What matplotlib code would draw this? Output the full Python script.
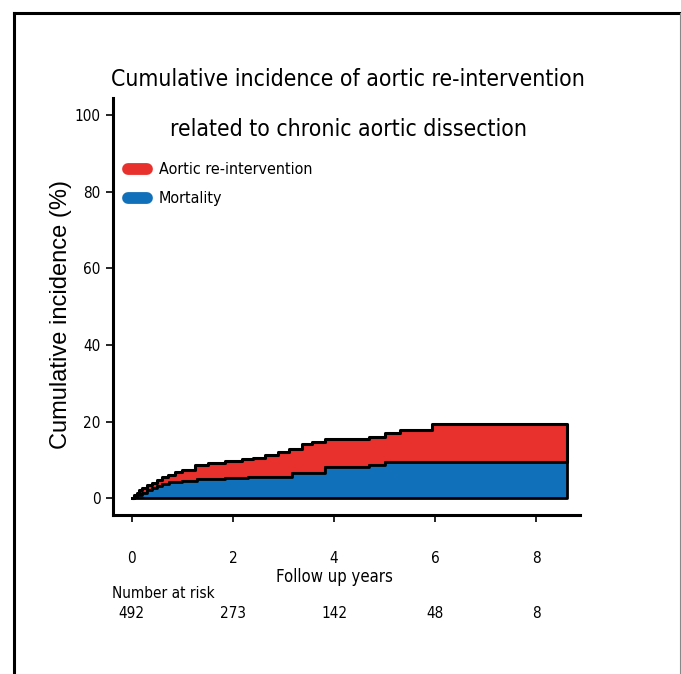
import numpy as np
import matplotlib
matplotlib.use('Agg')
import matplotlib.pyplot as plt
from matplotlib.lines import Line2D
from matplotlib.font_manager import FontProperties
from matplotlib.transforms import blended_transform_factory

plt.rcParams['font.family'] = ['DejaVu Sans']
plt.rcParams['font.stretch'] = 'condensed'

# step data (years, cumulative %)
t_reint = [0, 0.05, 0.1, 0.15, 0.2, 0.3, 0.4, 0.5, 0.6, 0.72, 0.85, 1.0, 1.25, 1.5,
           1.84, 2.17, 2.4, 2.63, 2.9, 3.1, 3.36, 3.56, 3.82, 4.68, 5.0, 5.3, 5.93, 8.6]
v_reint = [0, 0.8, 1.5, 2.1, 2.7, 3.4, 4.1, 4.8, 5.5, 6.1, 6.8, 7.5, 8.7, 9.2,
           9.8, 10.3, 10.6, 11.3, 12.0, 13.0, 14.1, 14.8, 15.5, 16.1, 17.1, 17.8, 19.3, 19.3]
t_mort = [0, 0.05, 0.1, 0.2, 0.3, 0.4, 0.5, 0.6, 0.73, 1.0, 1.3, 1.84, 2.3, 2.63,
          3.16, 3.82, 4.68, 5.0, 8.6]
v_mort = [0, 0.4, 0.9, 1.5, 2.1, 2.7, 3.3, 3.8, 4.3, 4.6, 5.0, 5.4, 5.5, 5.6,
          6.5, 8.1, 8.7, 9.55, 9.55]

risk_times = [0, 2, 4, 6, 8]
risk_counts = [492, 273, 142, 48, 8]

legend_labels = ['Aortic re-intervention', 'Mortality']

RED = '#e8302c'
BLUE = '#1170ba'

W, H = 681, 674


def fx(px):
    return px / W


def fy(py):
    return 1 - py / H


# mortality curve evaluated on the combined time grid so red sits on top of blue
t_all = np.array(sorted(set(t_reint) | set(t_mort)))
mort_on_all = np.array(v_mort)[np.searchsorted(t_mort, t_all, side='right') - 1]
reint_on_all = np.array(v_reint)[np.searchsorted(t_reint, t_all, side='right') - 1]

fig = plt.figure(figsize=(6.81, 6.74), dpi=100)
ax = fig.add_axes([fx(113), fy(515), fx(580) - fx(113), fy(98) - fy(515)])

ax.fill_between(t_all, mort_on_all, reint_on_all, step='post', facecolor=RED,
                edgecolor='black', linewidth=2.2, zorder=2)
ax.fill_between(t_all, 0, mort_on_all, step='post', facecolor=BLUE,
                edgecolor='black', linewidth=2.0, zorder=3)

ax.set_xlim(-0.37, 8.86)
ax.set_ylim(-4.36, 104.5)
ax.set_xticks([0, 2, 4, 6, 8])
ax.set_yticks([0, 20, 40, 60, 80, 100])
for s in ['top', 'right']:
    ax.spines[s].set_visible(False)
for s in ['left', 'bottom']:
    ax.spines[s].set_linewidth(2.2)
ax.tick_params(axis='both', width=1.2, length=5, labelsize=11)
ax.tick_params(axis='x', pad=21)
ax.tick_params(axis='y', pad=4)

ylab_font = FontProperties(family='Liberation Sans', stretch='normal', weight='normal', size=17)
ax.set_ylabel('Cumulative incidence (%)', fontproperties=ylab_font)
ax.yaxis.set_label_coords(-0.088, 0.48)

tr = blended_transform_factory(ax.transData, fig.transFigure)
ax.text(4, fy(577), 'Follow up years', transform=tr, fontsize=12, ha='center', va='center')

# number at risk table
fig.text(fx(112), fy(593), 'Number at risk', fontsize=11, va='center', ha='left')
for t, n in zip(risk_times, risk_counts):
    ax.text(t, fy(613), str(n), transform=tr, fontsize=11, ha='center', va='center')

# legend: rounded colour bars with labels
for col, lab, py in zip([RED, BLUE], legend_labels, [169, 198]):
    fig.add_artist(Line2D([fx(128), fx(147)], [fy(py), fy(py)], color=col, lw=8.5,
                          solid_capstyle='round', transform=fig.transFigure))
    fig.text(fx(159), fy(py), lab, fontsize=11.5, va='center', ha='left')

fig.text(fx(348), fy(80), 'Cumulative incidence of aortic re-intervention',
         fontsize=16.5, ha='center', va='center')
fig.text(fx(348), fy(130), 'related to chronic aortic dissection',
         fontsize=16.5, ha='center', va='center')

# outer frame of the figure panel
fig.add_artist(Line2D([fx(14), fx(14)], [0, fy(13)], color='black', lw=2.2,
                      transform=fig.transFigure))
fig.add_artist(Line2D([fx(14), 1], [fy(13), fy(13)], color='black', lw=2.2,
                      transform=fig.transFigure))
fig.add_artist(Line2D([fx(680), fx(680)], [0, fy(13)], color='#888888', lw=0.8,
                      transform=fig.transFigure))

fig.savefig('out.png', dpi=100)
